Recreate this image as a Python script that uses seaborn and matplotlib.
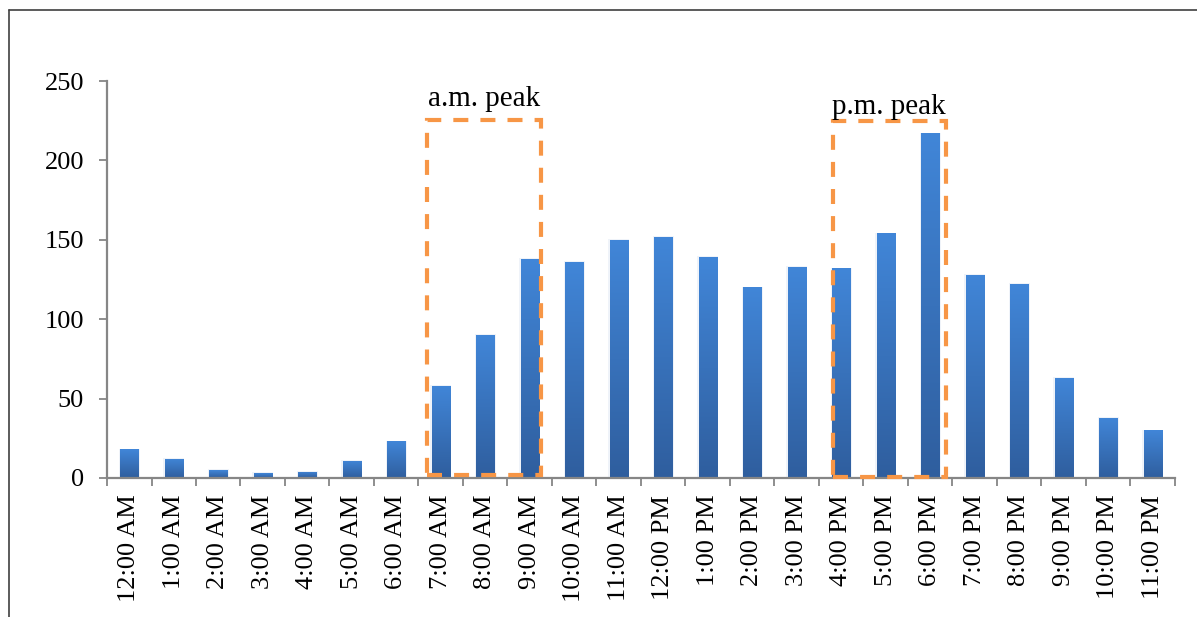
import numpy as np
import pandas as pd
import matplotlib
matplotlib.use("Agg")
import matplotlib.pyplot as plt
from matplotlib.colors import LinearSegmentedColormap
from matplotlib.patches import Rectangle
from matplotlib.lines import Line2D
import seaborn as sns

hours = ["12:00 AM", "1:00 AM", "2:00 AM", "3:00 AM", "4:00 AM", "5:00 AM",
         "6:00 AM", "7:00 AM", "8:00 AM", "9:00 AM", "10:00 AM", "11:00 AM",
         "12:00 PM", "1:00 PM", "2:00 PM", "3:00 PM", "4:00 PM", "5:00 PM",
         "6:00 PM", "7:00 PM", "8:00 PM", "9:00 PM", "10:00 PM", "11:00 PM"]
counts = [18, 12, 5, 3, 4, 11, 23, 58, 90, 138, 136, 150,
          152, 139, 120, 133, 132, 154, 217, 128, 122, 63, 38, 30]
yticks = [0, 50, 100, 150, 200, 250]

peak_labels = ["a.m. peak", "p.m. peak"]
peak_first = [7, 16]   # first hour index inside each peak window
peak_last = [9, 18]    # last hour index inside each peak window

df = pd.DataFrame({"hour": hours, "count": counts})

sns.set_theme(style="white")
plt.rcParams["font.family"] = ["Liberation Serif", "DejaVu Serif"]

fig = plt.figure(figsize=(11.97, 6.17), dpi=100)
W, H = 1197, 617
ax = fig.add_axes([107 / W, (H - 478) / H, (1175 - 107) / W, (478 - 81) / H])

sns.barplot(data=df, x="hour", y="count", ax=ax, width=0.41,
            color="#3b74c2", saturation=1, linewidth=0, zorder=2)

ax.set_xlim(-0.5, len(hours) - 0.5)
ax.set_ylim(0, 250)

# vertical gradient fill on each bar
grad = LinearSegmentedColormap.from_list("bar", ["#2f5e9e", "#4186d8"])
g = np.linspace(0, 1, 256).reshape(-1, 1)
for p in list(ax.patches):
    x0, y0 = p.get_x(), p.get_y()
    w, h = p.get_width(), p.get_height()
    # faint soft halo around the bar
    ax.add_patch(Rectangle((x0 - 0.03, y0), w + 0.06, h + 0.5,
                           facecolor="#d3dff0", edgecolor="none",
                           alpha=0.35, zorder=1.5))
    im = ax.imshow(g, cmap=grad, origin="lower", aspect="auto",
                   extent=(x0, x0 + w, y0, y0 + h), zorder=2.1,
                   interpolation="bilinear")
    im.set_clip_path(p)

ax.set_xlim(-0.5, len(hours) - 0.5)
ax.set_ylim(0, 250)

axis_col = "#868686"
for s in ["top", "right"]:
    ax.spines[s].set_visible(False)
for s in ["left", "bottom"]:
    ax.spines[s].set_color(axis_col)
    ax.spines[s].set_linewidth(1.6)

ax.set_yticks(yticks)
ax.set_yticklabels([str(v) for v in yticks])
ax.tick_params(axis="y", which="major", left=True, length=5.5, width=1.3,
               color=axis_col, pad=11, labelsize=19, labelcolor="black")

ax.set_xticks(range(len(hours)))
ax.set_xticklabels(hours, rotation=90, fontsize=19, color="black")
ax.tick_params(axis="x", which="major", length=0, pad=12)
ax.set_xticks(np.arange(-0.5, len(hours), 1.0), minor=True)
ax.tick_params(axis="x", which="minor", bottom=True, length=5.5, width=1.3,
               color=axis_col)
ax.set_xlabel("")
ax.set_ylabel("")
ax.grid(False)

# dashed peak windows
orange = "#f79646"
box_pad_left = [0.31, 0.19]
box_pad_right = [0.25, 0.35]
box_bottom = [2.0, 0.7]
box_top = [225.5, 224.6]
text_y = [234.5, 229.5]
for lab, a, b, pl, pr, yb, yt, ty in zip(peak_labels, peak_first, peak_last,
                                          box_pad_left, box_pad_right,
                                          box_bottom, box_top, text_y):
    left = a - pl
    right = b + pr
    ax.add_patch(Rectangle((left, yb), right - left, yt - yb, fill=False,
                           edgecolor=orange, linewidth=3,
                           linestyle=(0, (3.6, 2.9)), zorder=3,
                           clip_on=False))
    ax.text((left + right) / 2, ty, lab, ha="center", va="baseline",
            fontsize=21, color="black")

# outer frame (top and left edges)
fc = "#3f3f3f"
fig.add_artist(Line2D([9 / W, 1], [1 - 10 / H, 1 - 10 / H],
                      transform=fig.transFigure, color=fc, linewidth=1.2))
fig.add_artist(Line2D([9 / W, 9 / W], [0, 1 - 10 / H],
                      transform=fig.transFigure, color=fc, linewidth=1.2))

fig.savefig("out.png", dpi=100, facecolor="white")
